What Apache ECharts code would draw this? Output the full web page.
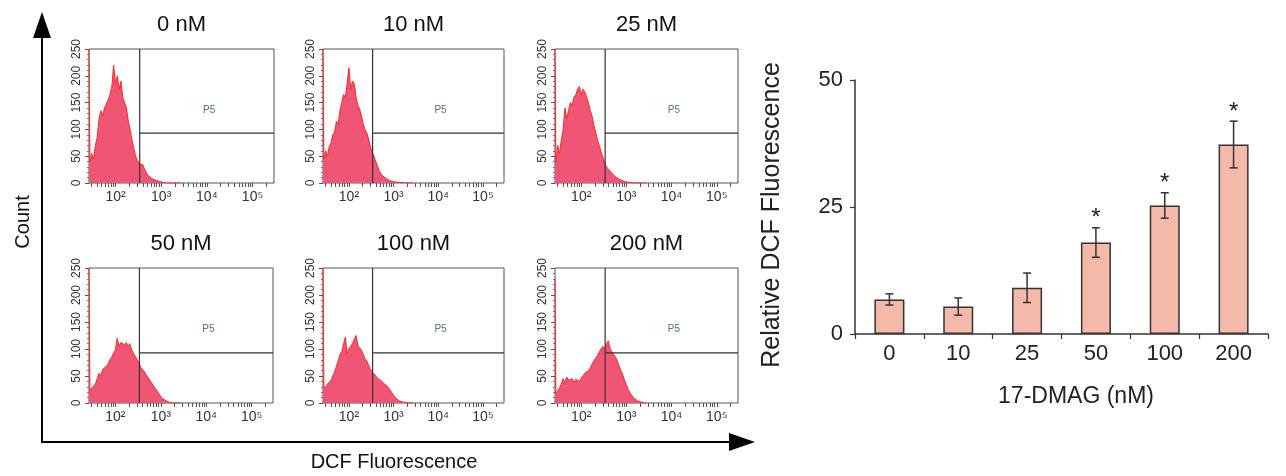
<!DOCTYPE html>
<html><head><meta charset="utf-8">
<script src="https://cdn.jsdelivr.net/npm/echarts@6/dist/echarts.min.js"></script>
<style>html,body{margin:0;padding:0;background:#fff}#c{width:1286px;height:476px}</style>
</head><body><div id="c"></div>
<script>
// ---------- DATA ----------
const panelTitles = ['0 nM', '10 nM', '25 nM', '50 nM', '100 nM', '200 nM'];
// histogram bin positions (log10 of DCF fluorescence)
const bins = [1.44,1.48,1.52,1.56,1.60,1.64,1.68,1.72,1.76,1.80,1.84,1.88,1.92,1.96,2.00,2.04,2.08,2.12,2.16,2.20,2.24,2.28,2.32,2.36,2.40,2.44,2.48,2.52,2.56,2.60,2.64,2.68,2.72,2.76,2.80,2.84,2.88,2.92,2.96,3.00,3.04,3.08,3.12,3.16,3.20,3.24,3.28,3.32,3.36,3.40,3.44];
const counts0   = [40,55,45,70,85,120,135,125,140,138,155,165,180,220,185,200,175,190,160,150,140,115,100,80,65,50,42,36,35,34,25,18,14,11,8,6,5,4,3,2,1,0.5,0,0,0,0,0,0,0,0,0];
const counts10  = [45,60,50,68,75,90,95,115,110,135,150,165,160,185,215,175,190,185,160,145,138,125,110,100,93,82,68,58,50,40,32,22,17,13,10,8,6,4,3,2.5,2,1.5,1,1,1,0.5,0.5,0,0,0,0];
const counts25  = [40,70,55,80,100,140,120,135,150,145,160,165,175,180,165,175,170,160,150,135,125,108,95,80,70,58,48,38,30,26,22,18,15,11,9,7,5,4,3,2,1.5,1,0.5,0,0,0,0,0,0,0,0];
const counts50  = [22,28,25,35,45,55,50,62,60,68,72,80,85,92,98,120,105,112,115,108,112,105,110,98,92,86,80,74,66,62,58,52,47,42,37,32,27,22,17,12,8,5,4,2,1,0.5,0,0,0,0,0];
const counts100 = [32,28,35,38,42,50,58,68,78,90,95,98,122,92,100,105,110,108,125,106,104,98,90,82,78,70,62,58,55,50,46,43,41,38,35,33,29,24,19,14,10,7,4,3,2,1.5,1,0.5,0,0,0];
const counts200 = [18,22,28,35,45,38,48,42,40,45,38,44,42,40,46,50,55,58,60,65,72,78,80,88,95,100,105,100,110,115,100,95,90,85,78,68,60,52,42,34,25,19,14,10,7,4,3,2,1,0.5,0];
// piled-up events at the lower edge of the scale (clipped at 250)
const edgeCounts = [250, 250, 250, 250, 250, 230];
const xTickValues = [2, 3, 4, 5];
const xTickLabels = ['10²', '10³', '10⁴', '10⁵'];
const gateX = 2.53;       // log10 position of vertical gate
const gateY = 93;         // count level of horizontal gate
const gateLabel = 'P5';
const gateLabelPos = [4.05, 136];

const barCategories = ['0', '10', '25', '50', '100', '200'];
const barValues = [6.8, 5.4, 9.1, 18.0, 25.3, 37.3];
const barErrors = [1.1, 1.7, 2.9, 2.9, 2.5, 4.6];
const barSig = [false, false, false, true, true, true];
const barXName = '17-DMAG (nM)';
const barYName = 'Relative DCF Fluorescence';

// ---------- LAYOUT ----------
const FONT = '"Liberation Sans", Arial, Helvetica, sans-serif';
const histCounts = [counts0, counts10, counts25, counts50, counts100, counts200];
const histGrids = [
  {left: 89, top: 49, width: 185, height: 134},
  {left: 323, top: 49, width: 181, height: 134},
  {left: 555, top: 49, width: 183, height: 134},
  {left: 89, top: 268, width: 184, height: 135},
  {left: 323, top: 268, width: 181, height: 135},
  {left: 555, top: 268, width: 183, height: 135}
];
const xMin = 1.42, xMax = 5.47;
const minorTicks = [];
for (let n = 1; n <= 5; n++) for (let k = 1; k <= 9; k++) {
  const v = n + Math.log10(k);
  if (v >= xMin && v <= xMax) minorTicks.push(v);
}

const grids = [], xAxes = [], yAxes = [], series = [], graphics = [];
histGrids.forEach((g, i) => {
  grids.push(Object.assign({show: true, borderColor: '#555', borderWidth: 1, backgroundColor: 'transparent'}, g));
  xAxes.push({
    gridIndex: i, type: 'value', min: xMin, max: xMax,
    axisLine: {show: false}, splitLine: {show: false},
    axisTick: {show: true, customValues: minorTicks, length: 4, lineStyle: {color: '#555'}},
    axisLabel: {customValues: xTickValues, fontSize: 14, color: '#333', margin: 7, fontFamily: FONT,
      formatter: v => xTickLabels[xTickValues.indexOf(Math.round(v))]}
  });
  yAxes.push({
    gridIndex: i, type: 'value', min: 0, max: 250, interval: 50,
    axisLine: {show: false}, splitLine: {show: false},
    axisTick: {show: true, length: 4, lineStyle: {color: '#555'}},
    minorTick: {show: true, splitNumber: 5, length: 2, lineStyle: {color: '#777'}},
    axisLabel: {rotate: 90, fontSize: 12, color: '#333', margin: 6, fontFamily: FONT}
  });
  series.push({
    type: 'line', xAxisIndex: i, yAxisIndex: i, symbol: 'none', clip: true,
    data: [[xMin, edgeCounts[i]]].concat(bins.map((b, j) => [b, histCounts[i][j]])),
    lineStyle: {color: '#FF2626', width: 1},
    areaStyle: {color: '#F05575', opacity: 1}, z: 2
  });
  series.push({
    type: 'line', xAxisIndex: i, yAxisIndex: i, symbol: 'none',
    data: [[gateX, 0], [gateX, 250]], lineStyle: {color: '#333', width: 1.2}, z: 3
  });
  series.push({
    type: 'line', xAxisIndex: i, yAxisIndex: i, symbol: 'none',
    data: [[gateX, gateY], [xMax, gateY]], lineStyle: {color: '#333', width: 1.2}, z: 3
  });
  series.push({
    type: 'scatter', xAxisIndex: i, yAxisIndex: i, symbolSize: 1,
    itemStyle: {color: 'rgba(0,0,0,0)'}, data: [gateLabelPos],
    label: {show: true, position: 'inside', formatter: gateLabel, fontSize: 10, color: '#2f4a55', fontFamily: FONT}
  });
  graphics.push({
    type: 'text', x: g.left + g.width / 2, y: g.top - 24,
    style: {text: panelTitles[i], fontSize: 22, fill: '#111', align: 'center', verticalAlign: 'middle', fontFamily: FONT}
  });
});

// bar chart
const bi = 6;
grids.push({left: 855, top: 80, width: 413, height: 254});
xAxes.push({
  gridIndex: bi, type: 'category', data: barCategories,
  axisLine: {lineStyle: {color: '#333', width: 1.5}},
  axisTick: {show: true, length: 5, lineStyle: {color: '#333', width: 1.2}},
  axisLabel: {fontSize: 22, color: '#222', margin: 9, fontFamily: FONT}
});
yAxes.push({
  gridIndex: bi, type: 'value', min: 0, max: 50, interval: 25,
  axisLine: {show: true, lineStyle: {color: '#333', width: 1.5}},
  axisTick: {show: true, length: 5, lineStyle: {color: '#333', width: 1.2}},
  splitLine: {show: false},
  axisLabel: {fontSize: 22, color: '#222', margin: 12, fontFamily: FONT}
});
series.push({
  type: 'bar', xAxisIndex: bi, yAxisIndex: bi, data: barValues, barWidth: 30,
  itemStyle: {color: '#F5B9A9', borderColor: '#333', borderWidth: 1.5}
});
series.push({
  type: 'custom', xAxisIndex: bi, yAxisIndex: bi, z: 5,
  data: barValues.map((v, i) => [i, v, barErrors[i], barSig[i] ? 1 : 0]),
  renderItem: (params, api) => {
    const i = api.value(0), v = api.value(1), e = api.value(2), s = api.value(3);
    const top = api.coord([i, v + e]), bot = api.coord([i, v - e]);
    const w = 4, st = {stroke: '#333', lineWidth: 1.5};
    const ch = [
      {type: 'line', shape: {x1: top[0], y1: top[1], x2: bot[0], y2: bot[1]}, style: st},
      {type: 'line', shape: {x1: top[0] - w, y1: top[1], x2: top[0] + w, y2: top[1]}, style: st},
      {type: 'line', shape: {x1: bot[0] - w, y1: bot[1], x2: bot[0] + w, y2: bot[1]}, style: st}
    ];
    if (s) ch.push({type: 'text', x: top[0], y: top[1] - 9,
      style: {text: '*', fontSize: 24, fill: '#222', align: 'center', verticalAlign: 'middle', fontFamily: FONT}});
    return {type: 'group', children: ch};
  }
});

// big arrows and outer labels
graphics.push(
  {type: 'line', shape: {x1: 42, y1: 443, x2: 42, y2: 30}, style: {stroke: '#000', lineWidth: 2}},
  {type: 'polygon', shape: {points: [[42, 12], [33, 38], [51, 38]]}, style: {fill: '#000'}},
  {type: 'line', shape: {x1: 41, y1: 442, x2: 735, y2: 442}, style: {stroke: '#000', lineWidth: 2}},
  {type: 'polygon', shape: {points: [[755, 442], [729, 433], [729, 451]]}, style: {fill: '#000'}},
  {type: 'text', x: 23, y: 222, rotation: Math.PI / 2,
   style: {text: 'Count', fontSize: 20, fill: '#111', align: 'center', verticalAlign: 'middle', fontFamily: FONT}},
  {type: 'text', x: 394, y: 462,
   style: {text: 'DCF Fluorescence', fontSize: 20, fill: '#111', align: 'center', verticalAlign: 'middle', fontFamily: FONT}},
  {type: 'text', x: 1076, y: 397,
   style: {text: barXName, fontSize: 23, fill: '#222', align: 'center', verticalAlign: 'middle', fontFamily: FONT}},
  {type: 'text', x: 772, y: 215, rotation: Math.PI / 2,
   style: {text: barYName, fontSize: 25, fill: '#222', align: 'center', verticalAlign: 'middle', fontFamily: FONT}}
);

const chart = echarts.init(document.getElementById('c'), null, {renderer: 'canvas'});
chart.setOption({
  animation: false,
  backgroundColor: '#fff',
  textStyle: {fontFamily: FONT},
  grid: grids, xAxis: xAxes, yAxis: yAxes, series: series, graphic: graphics
});
</script></body></html>
